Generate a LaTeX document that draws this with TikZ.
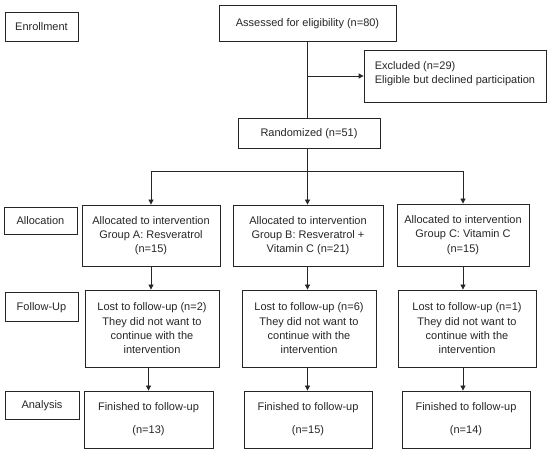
\documentclass[tikz,border=0pt]{standalone}
\usepackage{fontspec}
\setmainfont{Liberation Sans}
\usetikzlibrary{arrows.meta}
\begin{document}
\begin{tikzpicture}[x=1pt,y=-1pt,
  base/.style={draw=black!85, line width=0.8pt, inner sep=0pt,
    font=\fontsize{11}{14.3}\selectfont, text=black!85},
  box/.style={base, align=center},
  onebox/.style={base, text height=7.9pt, text depth=0pt},
  con/.style={draw=black!85, line width=0.8pt},
  arr/.style={con, -{Triangle[length=5pt,width=5pt]}}]
\useasboundingbox (0,0) rectangle (550,454);
% left labels
\node[onebox, minimum width=73pt, minimum height=29pt] (enr) at (41.5,26.5) {Enrollment};
\node[onebox, minimum width=73pt, minimum height=27pt] (alc) at (40.5,220.5) {Allocation};
\node[onebox, minimum width=73pt, minimum height=29pt] (fu) at (41.5,306.5) {Follow-Up};
\node[onebox, minimum width=74pt, minimum height=28pt] (ana) at (42,405) {Analysis};
% top
\node[onebox, minimum width=177pt, minimum height=36pt] (ass) at (307.5,23) {Assessed for eligibility (n=80)};
\node[box, minimum width=182pt, minimum height=52pt, align=left] (exc) at (455,76) {Excluded (n=29)\\Eligible but declined participation\vphantom{p}\\[-8pt]};
\node[onebox, minimum width=142pt, minimum height=30pt] (ran) at (309,133) {Randomized (n=51)};
% allocation
\node[box, minimum width=138pt, minimum height=61pt] (gA) at (151,235.5) {Allocated to intervention\\Group A: Resveratrol\\(n=15)};
\node[box, minimum width=150pt, minimum height=61pt] (gB) at (308,235.5) {Allocated to intervention\\Group B: Resveratrol +\\Vitamin C (n=21)};
\node[box, minimum width=132pt, minimum height=62pt] (gC) at (463,235) {Allocated to intervention\\Group C: Vitamin C\\(n=15)};
% follow-up
\node[box, minimum width=134pt, minimum height=77pt] (lA) at (152,328.5) {Lost to follow-up (n=2)\\They did not want to\\continue with the\\intervention};
\node[box, minimum width=134pt, minimum height=77pt] (lB) at (309,328.5) {Lost to follow-up (n=6)\\They did not want to\\continue with the\\intervention};
\node[box, minimum width=138pt, minimum height=77pt] (lC) at (467,328.5) {Lost to follow-up (n=1)\\They did not want to\\continue with the\\intervention};
% analysis
\node[box, minimum width=129pt, minimum height=57pt] (fA) at (148.5,419.5) {Finished to follow-up\\[8.5pt](n=13)};
\node[box, minimum width=128pt, minimum height=57pt] (fB) at (308,419.5) {Finished to follow-up\\[8.5pt](n=15)};
\node[box, minimum width=128pt, minimum height=57pt] (fC) at (466,419.5) {Finished to follow-up\\[8.5pt](n=14)};
% connectors
\draw[con] (ass.south) -- (ass.south |- ran.north);
\draw[arr] (ass.south |- exc.west) -- (exc.west);
\coordinate (sp) at (307.5,171);
\draw[con] (ran.south -| ass.south) -- (sp);
\draw[con] (sp -| gA.north) -- (sp -| gC.north);
\draw[arr] (sp -| gA.north) -- (gA.north);
\draw[arr] (sp) -- (sp |- gB.north);
\draw[arr] (sp -| gC.north) -- (gC.north);
\draw[arr] (gA.south) -- (gA.south |- lA.north);
\draw[arr] (sp |- gB.south) -- (sp |- lB.north);
\draw[arr] (gC.south) -- (gC.south |- lC.north);
\draw[arr] (fA.north |- lA.south) -- (fA.north);
\draw[arr] (sp |- lB.south) -- (sp |- fB.north);
\draw[arr] (gC.south |- lC.south) -- (gC.south |- fC.north);
\end{tikzpicture}
\end{document}
